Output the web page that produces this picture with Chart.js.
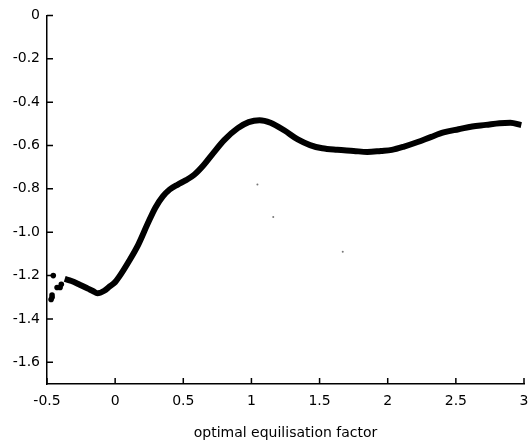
<!DOCTYPE html>
<html>
<head>
<meta charset="utf-8">
<script src="https://cdn.jsdelivr.net/npm/chart.js@4"></script>
<style>
    html, body { margin: 0; padding: 0; background: #fff; }
    #wrap { width: 528px; height: 444px; }
</style>
</head>
<body>
<div id="wrap"><canvas id="chart"></canvas></div>
<script>
// main curve
const curveX = [-0.37, -0.32, -0.26, -0.20, -0.16, -0.13, -0.08, -0.04, 0.0, 0.03,
    0.10, 0.17, 0.235, 0.295, 0.35, 0.40, 0.46, 0.52, 0.58,
    0.65, 0.72, 0.80, 0.90, 0.98, 1.06, 1.14, 1.24, 1.34, 1.43,
    1.52, 1.63, 1.75, 1.85, 1.95, 2.03, 2.12, 2.22, 2.32, 2.41,
    2.52, 2.62, 2.72, 2.82, 2.90, 2.98];
const curveY = [-1.215, -1.225, -1.242, -1.26, -1.272, -1.282, -1.27, -1.25, -1.23, -1.205,
    -1.135, -1.057, -0.966, -0.887, -0.835, -0.803, -0.78, -0.76, -0.735,
    -0.69, -0.635, -0.575, -0.52, -0.492, -0.483, -0.495, -0.53, -0.572, -0.598,
    -0.613, -0.62, -0.625, -0.63, -0.625, -0.62, -0.605, -0.584, -0.56, -0.54,
    -0.525, -0.512, -0.505, -0.497, -0.495, -0.506];

// scattered points at the left end
const noiseX = [-0.426, -0.404, -0.463, -0.463, -0.47, -0.454, -0.395];
const noiseY = [-1.255, -1.255, -1.29, -1.30, -1.31, -1.20, -1.24];

// tiny specks in the plot
const strayX = [1.044, 1.16, 1.67];
const strayY = [-0.78, -0.93, -1.09];

const xTicks = [-0.5, 0, 0.5, 1, 1.5, 2, 2.5, 3];
const xTickLabels = ['-0.5', '0', '0.5', '1', '1.5', '2', '2.5', '3'];
const yTicks = [0, -0.2, -0.4, -0.6, -0.8, -1.0, -1.2, -1.4, -1.6];
const yTickLabels = ['0', '-0.2', '-0.4', '-0.6', '-0.8', '-1.0', '-1.2', '-1.4', '-1.6'];

const toPoints = (xs, ys) => xs.map((x, i) => ({ x: x, y: ys[i] }));

// ticks pointing into the plot
const inwardTicks = {
    id: 'inwardTicks',
    afterDraw(chart) {
        const ctx = chart.ctx;
        const xs = chart.scales.x, ys = chart.scales.y;
        ctx.save();
        ctx.strokeStyle = '#000';
        ctx.lineWidth = 1.5;
        ctx.beginPath();
        xTicks.forEach(v => {
            const px = xs.getPixelForValue(v);
            ctx.moveTo(px, xs.top);
            ctx.lineTo(px, xs.top - 6);
        });
        yTicks.forEach(v => {
            const py = ys.getPixelForValue(v);
            ctx.moveTo(ys.right, py);
            ctx.lineTo(ys.right + 6, py);
        });
        ctx.stroke();
        ctx.restore();
    }
};

const fontSpec = { family: "'DejaVu Sans', sans-serif", size: 14 };

new Chart(document.getElementById('chart'), {
    type: 'scatter',
    data: {
        datasets: [{
            data: toPoints(curveX, curveY),
            showLine: true,
            borderColor: '#000',
            borderWidth: 6,
            cubicInterpolationMode: 'monotone',
            pointRadius: 0
        }, {
            data: toPoints(noiseX, noiseY),
            backgroundColor: '#000',
            borderWidth: 0,
            pointRadius: 2.8
        }, {
            data: toPoints(strayX, strayY),
            backgroundColor: '#777',
            borderWidth: 0,
            pointRadius: 1
        }]
    },
    options: {
        responsive: true,
        maintainAspectRatio: false,
        animation: false,
        layout: { padding: { top: 15, right: 3, left: 0, bottom: 0 } },
        plugins: {
            legend: { display: false },
            tooltip: { enabled: false }
        },
        scales: {
            x: {
                type: 'linear',
                min: -0.5,
                max: 3,
                afterBuildTicks: s => { s.ticks = xTicks.map(v => ({ value: v })); },
                afterFit: s => { s.height = 60; s.paddingRight = 0; s.paddingLeft = 0; },
                grid: { display: false, drawTicks: false },
                border: { display: true, color: '#000', width: 1.5 },
                ticks: {
                    color: '#000',
                    font: fontSpec,
                    padding: 9,
                    maxRotation: 0,
                    callback: (v, i) => xTickLabels[i]
                },
                title: {
                    display: true,
                    text: 'optimal equilisation factor',
                    color: '#000',
                    font: fontSpec,
                    padding: { top: 0, bottom: 2 }
                }
            },
            y: {
                min: -1.7,
                max: 0,
                afterBuildTicks: s => { s.ticks = yTicks.map(v => ({ value: v })); },
                afterFit: s => { s.width = 47; },
                grid: { display: false, drawTicks: false },
                border: { display: true, color: '#000', width: 1.5 },
                ticks: {
                    color: '#000',
                    font: fontSpec,
                    padding: 7,
                    callback: (v, i) => yTickLabels[i]
                }
            }
        }
    },
    plugins: [inwardTicks]
});
</script>
</body>
</html>
